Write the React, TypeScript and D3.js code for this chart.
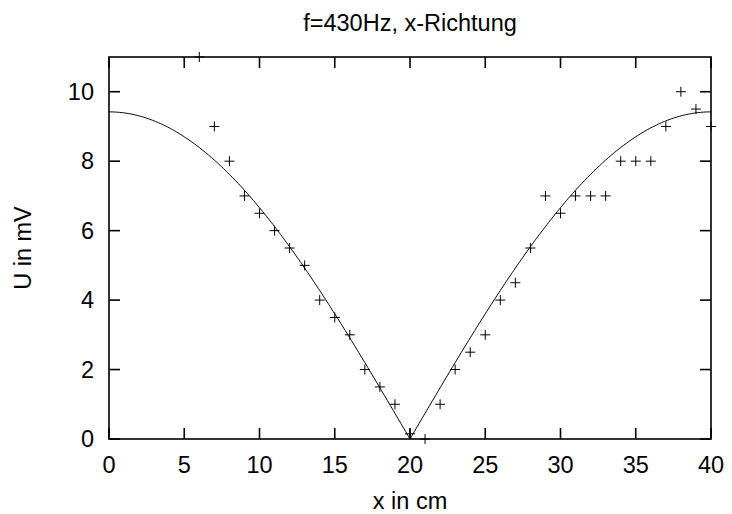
import * as d3 from "d3";

// measured data (x in cm, U in mV)
const X_CM = [6, 7, 8, 9, 10, 11, 12, 13, 14, 15, 16, 17, 18, 19, 20, 21, 22, 23, 24, 25, 26, 27, 28, 29, 30, 31, 32, 33, 34, 35, 36, 37, 38, 39, 40];
const U_MV = [11, 9, 8, 7, 6.5, 6, 5.5, 5, 4, 3.5, 3, 2, 1.5, 1, 0.15, 0, 1, 2, 2.5, 3, 4, 4.5, 5.5, 7, 6.5, 7, 7, 7, 8, 8, 8, 9, 10, 9.5, 9];

// fit: U = A * |cos(pi * x / (2 * x0))|
const FIT_A = 9.42;
const FIT_X0 = 20;

const X_TICKS = [0, 5, 10, 15, 20, 25, 30, 35, 40];
const Y_TICKS = [0, 2, 4, 6, 8, 10];

const W = 732;
const H = 514;
const m = { left: 109, right: 21, top: 57, bottom: 75 };
const FONT = "'Liberation Sans', Arial, sans-serif";
const FS = 23.5;

export default function App() {
  const x = d3.scaleLinear().domain([0, 40]).range([m.left, W - m.right]);
  const y = d3.scaleLinear().domain([0, 11]).range([H - m.bottom, m.top]);

  const fitXs = d3.range(0, 40.001, 0.1);
  const line = d3
    .line<number>()
    .x((d) => x(d))
    .y((d) => y(FIT_A * Math.abs(Math.cos((Math.PI * d) / (2 * FIT_X0)))));

  const tick = 11;
  const x0 = x(0), x1 = x(40), y0 = y(0), y1 = y(11);

  return (
    <svg width={W} height={H} style={{ position: "absolute", left: 0, top: 0, background: "#fff" }} fontFamily={FONT}>
      {/* fit curve */}
      <path d={line(fitXs) ?? ""} fill="none" stroke="#000" strokeWidth={1} />

      {/* data crosses */}
      {X_CM.map((xv, i) => {
        const cx = x(xv), cy = y(U_MV[i]);
        return (
          <g key={i} stroke="#000" strokeWidth={1}>
            <line x1={cx - 5} x2={cx + 5} y1={cy} y2={cy} />
            <line x1={cx} x2={cx} y1={cy - 5} y2={cy + 5} />
          </g>
        );
      })}

      {/* ticks, mirrored */}
      <g stroke="#000" strokeWidth={1.6}>
        {X_TICKS.map((t) => (
          <g key={"x" + t}>
            <line x1={x(t)} x2={x(t)} y1={y0} y2={y0 - tick} />
            <line x1={x(t)} x2={x(t)} y1={y1} y2={y1 + tick} />
          </g>
        ))}
        {Y_TICKS.map((t) => (
          <g key={"y" + t}>
            <line x1={x0} x2={x0 + tick} y1={y(t)} y2={y(t)} />
            <line x1={x1} x2={x1 - tick} y1={y(t)} y2={y(t)} />
          </g>
        ))}
      </g>

      {/* border */}
      <rect x={x0} y={y1} width={x1 - x0} height={y0 - y1} fill="none" stroke="#000" strokeWidth={1.6} />

      {/* tick labels */}
      <g fontSize={FS} fill="#000">
        {X_TICKS.map((t) => (
          <text key={"xl" + t} x={x(t)} y={473} textAnchor="middle">{t}</text>
        ))}
        {Y_TICKS.map((t) => (
          <text key={"yl" + t} x={94} y={y(t) + 8} textAnchor="end">{t}</text>
        ))}
      </g>

      {/* labels */}
      <text x={(x0 + x1) / 2} y={30.5} textAnchor="middle" fontSize={FS}>f=430Hz, x-Richtung</text>
      <text x={(x0 + x1) / 2} y={509} textAnchor="middle" fontSize={FS}>x in cm</text>
      <text transform={`translate(31,${(y0 + y1) / 2}) rotate(-90)`} textAnchor="middle" fontSize={FS}>U in mV</text>
    </svg>
  );
}
